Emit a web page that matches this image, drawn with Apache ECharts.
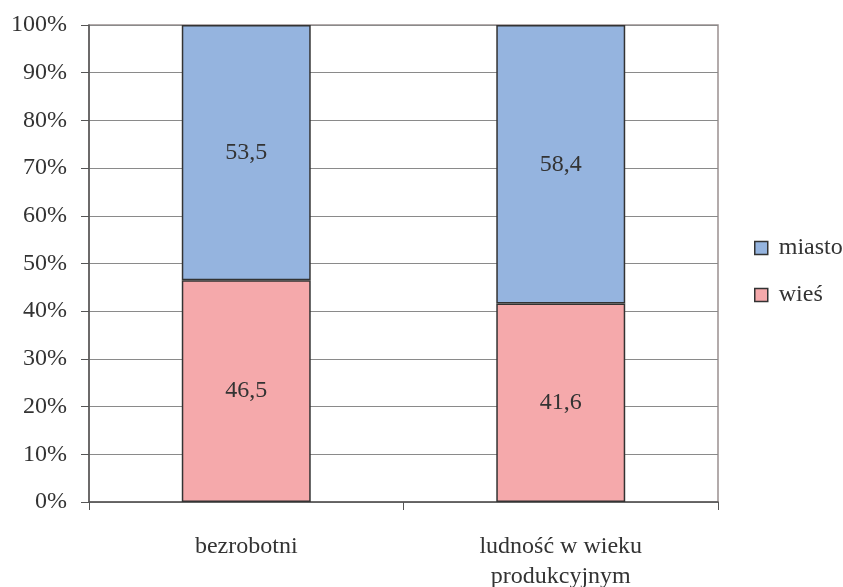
<!DOCTYPE html>
<html><head><meta charset="utf-8">
<script src="https://cdn.jsdelivr.net/npm/echarts@6/dist/echarts.min.js"></script>
<style>html,body{margin:0;padding:0;background:#fff}#c{width:843px;height:587px}</style>
</head><body><div id="c"></div>
<script>
var categories = ['bezrobotni', 'ludność w wieku\nprodukcyjnym'];
var wies = [46.5, 41.6];
var miasto = [53.5, 58.4];
var yTicks = [0, 10, 20, 30, 40, 50, 60, 70, 80, 90, 100];
var font = '"Liberation Serif", "Times New Roman", Times, serif';
var chart = echarts.init(document.getElementById('c'));
function lbl(v){ return v.toFixed(1).replace('.', ','); }
chart.setOption({
  animation: false,
  backgroundColor: '#fff',
  textStyle: { fontFamily: font },
  grid: { left: 89, right: 125, top: 25, bottom: 85, containLabel: false, outerBoundsMode: 'none',
          show: true, borderColor: '#9a9090', borderWidth: 1.5 },
  legend: {
    orient: 'vertical', left: 749, top: 231,
    itemWidth: 13, itemHeight: 13, itemGap: 23,
    icon: 'rect',
    itemStyle: { borderColor: '#333', borderWidth: 1.5 },
    textStyle: { fontFamily: font, fontSize: 24, color: '#333', padding: [0, 0, 0, 6] },
    data: ['miasto', 'wieś']
  },
  xAxis: {
    type: 'category', data: categories,
    axisLine: { lineStyle: { color: '#555', width: 1.5 } },
    axisTick: { show: true, length: 8, lineStyle: { color: '#555' } },
    axisLabel: { margin: 30, fontFamily: font, fontSize: 24, color: '#333', lineHeight: 30 }
  },
  yAxis: {
    type: 'value', min: 0, max: 100, interval: 10,
    axisLine: { show: true, lineStyle: { color: '#555', width: 1.5 } },
    axisTick: { show: true, length: 8, lineStyle: { color: '#555' } },
    splitLine: { lineStyle: { color: '#8a8a8a', width: 1.2 } },
    axisLabel: { margin: 22, fontFamily: font, fontSize: 24, color: '#333',
      formatter: function(v){ return yTicks.indexOf(v) >= 0 ? v + '%' : ''; } }
  },
  series: [
    { name: 'wieś', type: 'bar', stack: 's', data: wies, barWidth: '41%',
      itemStyle: { color: '#F5A9AB', borderColor: '#333', borderWidth: 1.5 },
      label: { show: true, position: 'inside', fontFamily: font, fontSize: 24, color: '#333',
        formatter: function(p){ return lbl(p.value); } } },
    { name: 'miasto', type: 'bar', stack: 's', data: miasto, barWidth: '41%',
      itemStyle: { color: '#95B4DF', borderColor: '#333', borderWidth: 1.5 },
      label: { show: true, position: 'inside', fontFamily: font, fontSize: 24, color: '#333',
        formatter: function(p){ return lbl(p.value); } } }
  ]
});
</script></body></html>
